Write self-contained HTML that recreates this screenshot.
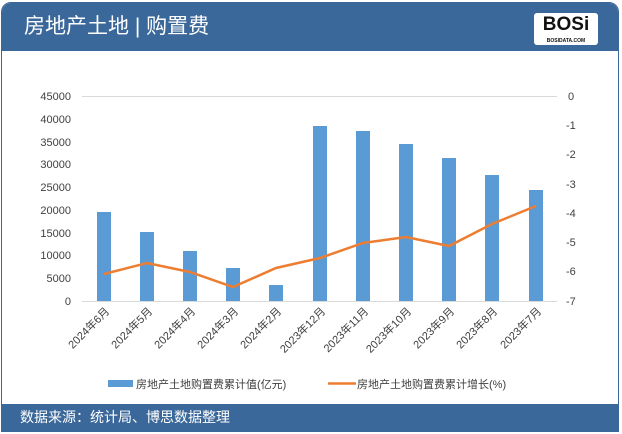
<!DOCTYPE html>
<html><head><meta charset="utf-8"><style>
body{margin:0;width:622px;height:434px;background:#fff;overflow:hidden;font-family:"Liberation Sans","Noto Sans CJK SC",sans-serif}
.frame{position:absolute;left:1px;top:2px;width:618px;height:430px;border:1px solid #3b689a;border-radius:10px 10px 0 0;box-sizing:border-box;overflow:hidden}
.hd{position:absolute;left:0;top:0;width:100%;height:48px;background:#3b689a;color:#fff;font-size:21px;line-height:48px;padding-left:22px;box-sizing:border-box}
.ft{position:absolute;left:0;bottom:0;width:100%;height:27px;background:#3b689a;color:#fff;font-size:14px;line-height:27px;padding-left:18px;box-sizing:border-box}
.logo{position:absolute;right:20px;top:10px;width:64px;height:32px;background:#fff;border-radius:3px;color:#111;font-weight:bold;font-size:19px;text-align:center;line-height:24px}
.logo small{position:absolute;left:0;right:0;bottom:1px;font-size:5px;line-height:6px}
</style></head><body>
<div class="frame">
<div class="hd">房地产土地 | 购置费<div class="logo">BOSi<small>BOSIDATA.COM</small></div></div>
<div class="ft">数据来源：统计局、博思数据整理</div>
</div>
<svg width="622" height="434" style="position:absolute;left:0;top:0" font-family="Liberation Sans, Noto Sans CJK SC, sans-serif">
<g stroke="#d9d9d9" stroke-width="1">
<line x1="82" x2="557" y1="96.5" y2="96.5"/><line x1="82" x2="557" y1="301.5" y2="301.5"/>
</g>
<g font-size="11" fill="#404040" text-anchor="end">
<text x="71" y="100">45000</text><text x="71" y="123">40000</text><text x="71" y="146">35000</text><text x="71" y="168">30000</text><text x="71" y="191">25000</text><text x="71" y="214">20000</text><text x="71" y="237">15000</text><text x="71" y="259">10000</text><text x="71" y="282">5000</text><text x="71" y="305">0</text>
</g>
<g font-size="11" fill="#404040">
<text x="568" y="100">0</text><text x="566" y="129">-1</text><text x="566" y="158">-2</text><text x="566" y="188">-3</text><text x="566" y="217">-4</text><text x="566" y="246">-5</text><text x="566" y="275">-6</text><text x="566" y="305">-7</text>
</g>
<g fill="#5b9bd5">
<rect x="97" y="212" width="14" height="89"/>
<rect x="140" y="232" width="14" height="69"/>
<rect x="183" y="251" width="14" height="50"/>
<rect x="226" y="268" width="14" height="33"/>
<rect x="269" y="285" width="14" height="16"/>
<rect x="313" y="126" width="14" height="175"/>
<rect x="356" y="131" width="14" height="170"/>
<rect x="399" y="144" width="14" height="157"/>
<rect x="442" y="158" width="14" height="143"/>
<rect x="485" y="175" width="14" height="126"/>
<rect x="529" y="190" width="14" height="111"/>
</g>
<polyline fill="none" stroke="#ed7d31" stroke-width="2.5" points="104,274 147,263 190,272 233,287 276,268 320,258 363,243 406,237 449,246 492,224 536,206"/>
<g font-size="11" fill="#404040" text-anchor="end">
<text transform="translate(110,312) rotate(-45)">2024年6月</text>
<text transform="translate(153,312) rotate(-45)">2024年5月</text>
<text transform="translate(196,312) rotate(-45)">2024年4月</text>
<text transform="translate(239,312) rotate(-45)">2024年3月</text>
<text transform="translate(282,312) rotate(-45)">2024年2月</text>
<text transform="translate(326,312) rotate(-45)">2023年12月</text>
<text transform="translate(369,312) rotate(-45)">2023年11月</text>
<text transform="translate(412,312) rotate(-45)">2023年10月</text>
<text transform="translate(455,312) rotate(-45)">2023年9月</text>
<text transform="translate(498,312) rotate(-45)">2023年8月</text>
<text transform="translate(542,312) rotate(-45)">2023年7月</text>
</g>
<rect x="108" y="380" width="25" height="7" fill="#5b9bd5"/>
<text x="136" y="388" font-size="11" fill="#404040">房地产土地购置费累计值(亿元)</text>
<line x1="328" x2="356" y1="383.5" y2="383.5" stroke="#ed7d31" stroke-width="2.5"/>
<text x="357" y="388" font-size="11" fill="#404040">房地产土地购置费累计增长(%)</text>
</svg>
</body></html>
